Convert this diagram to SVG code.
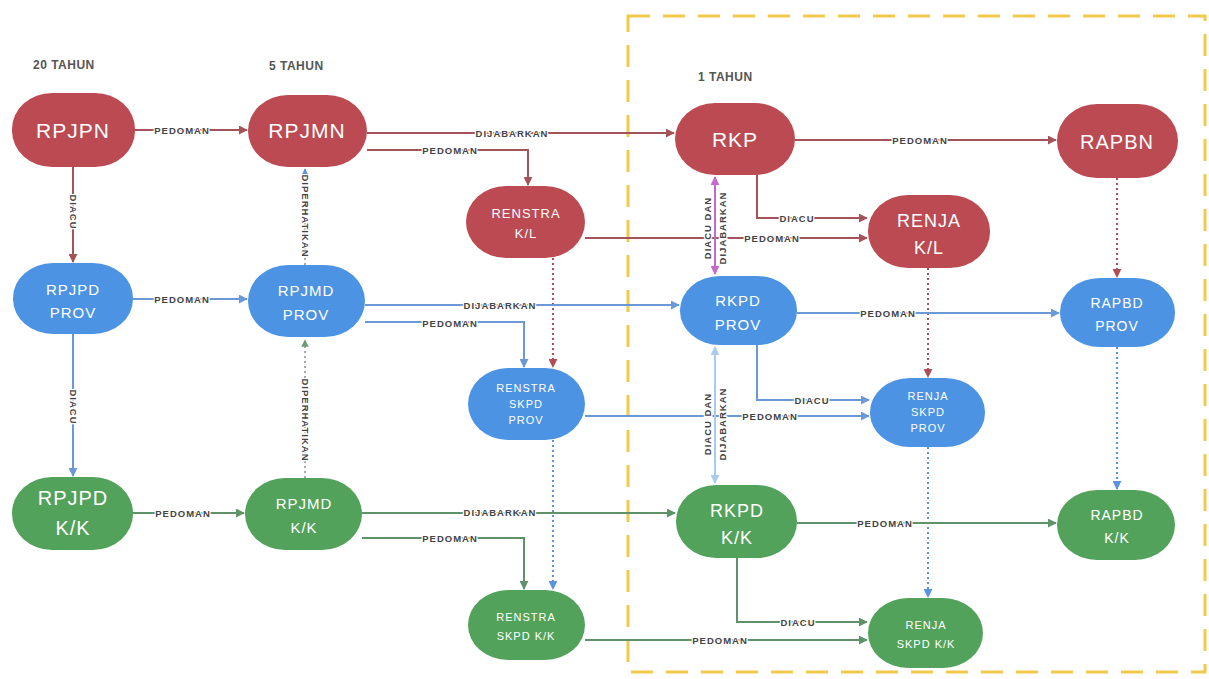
<svg xmlns="http://www.w3.org/2000/svg" width="1209" height="679" viewBox="0 0 1209 679">
<style>
.bg{fill:#ffffff}
.red{fill:#bb4a52}
.blue{fill:#4d93e3}
.green{fill:#53a25c}
.nt{font-family:"Liberation Sans",Arial,sans-serif;fill:#ffffff;text-anchor:middle;letter-spacing:1px}
.hd{font-family:"Liberation Sans",Arial,sans-serif;font-weight:bold;font-size:12px;fill:#555555;letter-spacing:0.5px}
.lb{font-family:"Liberation Sans",Arial,sans-serif;font-weight:bold;font-size:9.5px;fill:#444444;text-anchor:middle;dominant-baseline:central;letter-spacing:1px;paint-order:stroke;stroke:#ffffff;stroke-width:2.5px}
.cr{fill:none;stroke:#a5535a;stroke-width:2}
.cb{fill:none;stroke:#6b98d6;stroke-width:2}
.cg{fill:none;stroke:#5f9268;stroke-width:2}
.dr{fill:none;stroke:#b04e55;stroke-width:2;stroke-dasharray:2 3}
.db{fill:none;stroke:#5c93e0;stroke-width:2;stroke-dasharray:2 3}
.dg{fill:none;stroke:#8a8f8a;stroke-width:1.5;stroke-dasharray:2 3}
.cm{fill:none;stroke:#c46bc8;stroke-width:2}
.cl{fill:none;stroke:#a8ccf0;stroke-width:2}
.frame{fill:none;stroke:#f2c94a;stroke-width:3;stroke-dasharray:22 13}
</style>
<defs>
<marker id="ar" viewBox="0 0 10 10" refX="9" refY="5" markerWidth="4.5" markerHeight="4.5" orient="auto-start-reverse"><path d="M0,0 L10,5 L0,10 z" fill="#a5535a"/></marker>
<marker id="ab" viewBox="0 0 10 10" refX="9" refY="5" markerWidth="4.5" markerHeight="4.5" orient="auto-start-reverse"><path d="M0,0 L10,5 L0,10 z" fill="#6b98d6"/></marker>
<marker id="ag" viewBox="0 0 10 10" refX="9" refY="5" markerWidth="4.5" markerHeight="4.5" orient="auto-start-reverse"><path d="M0,0 L10,5 L0,10 z" fill="#5f9268"/></marker>
<marker id="adr" viewBox="0 0 10 10" refX="9" refY="5" markerWidth="4.5" markerHeight="4.5" orient="auto-start-reverse"><path d="M0,0 L10,5 L0,10 z" fill="#b04e55"/></marker>
<marker id="adb" viewBox="0 0 10 10" refX="9" refY="5" markerWidth="4.5" markerHeight="4.5" orient="auto-start-reverse"><path d="M0,0 L10,5 L0,10 z" fill="#5c93e0"/></marker>
<marker id="adg" viewBox="0 0 10 10" refX="9" refY="5" markerWidth="5" markerHeight="5" orient="auto-start-reverse"><path d="M0,0 L10,5 L0,10 z" fill="#6f9a78"/></marker>
<marker id="am" viewBox="0 0 10 10" refX="9" refY="5" markerWidth="4.5" markerHeight="4.5" orient="auto-start-reverse"><path d="M0,0 L10,5 L0,10 z" fill="#c46bc8"/></marker>
<marker id="al" viewBox="0 0 10 10" refX="9" refY="5" markerWidth="4.5" markerHeight="4.5" orient="auto-start-reverse"><path d="M0,0 L10,5 L0,10 z" fill="#a8ccf0"/></marker>
</defs>
<rect class="bg" x="0" y="0" width="1209" height="679"/>
<rect class="frame" x="628" y="16" width="577" height="656"/>
<g id="headers">
<text class="hd" x="33" y="69">20 TAHUN</text>
<text class="hd" x="269" y="70">5 TAHUN</text>
<text class="hd" x="698" y="81">1 TAHUN</text>
</g>
<g id="connectors">
<path class="cr" d="M135,130 H247" marker-end="url(#ar)"/>
<path class="cr" d="M367,133 H674" marker-end="url(#ar)"/>
<path class="cr" d="M367,150 H528 V185" marker-end="url(#ar)"/>
<path class="cr" d="M795,140 H1056" marker-end="url(#ar)"/>
<path class="cr" d="M757,175 V218 H867" marker-end="url(#ar)"/>
<path class="cr" d="M585,238 H867" marker-end="url(#ar)"/>
<path class="cr" d="M73,167 V262" marker-end="url(#ar)"/>
<path class="dr" d="M1117,178 V277" marker-end="url(#adr)"/>
<path class="dr" d="M553,258 V367" marker-end="url(#adr)"/>
<path class="dr" d="M928,268 V377" marker-end="url(#adr)"/>
<path class="cm" d="M715,177 V274" marker-start="url(#am)" marker-end="url(#am)"/>
<path class="dg" d="M305,265 V169" marker-end="url(#adb)"/>
<path class="cb" d="M133,299 H247" marker-end="url(#ab)"/>
<path class="cb" d="M365,305 H679" marker-end="url(#ab)"/>
<path class="cb" d="M365,322 H524 V367" marker-end="url(#ab)"/>
<path class="cb" d="M797,313 H1059" marker-end="url(#ab)"/>
<path class="cb" d="M757,345 V400 H869" marker-end="url(#ab)"/>
<path class="cb" d="M585,416 H869" marker-end="url(#ab)"/>
<path class="cb" d="M73,334 V476" marker-end="url(#ab)"/>
<path class="db" d="M1117,347 V489" marker-end="url(#adb)"/>
<path class="db" d="M553,440 V589" marker-end="url(#adb)"/>
<path class="db" d="M928,447 V597" marker-end="url(#adb)"/>
<path class="cl" d="M715,347 V483" marker-start="url(#al)" marker-end="url(#al)"/>
<path class="dg" d="M305,478 V340" marker-end="url(#adg)"/>
<path class="cg" d="M133,513 H244" marker-end="url(#ag)"/>
<path class="cg" d="M362,513 H675" marker-end="url(#ag)"/>
<path class="cg" d="M362,538 H524 V589" marker-end="url(#ag)"/>
<path class="cg" d="M797,523 H1056" marker-end="url(#ag)"/>
<path class="cg" d="M737,558 V622 H867" marker-end="url(#ag)"/>
<path class="cg" d="M585,640 H867" marker-end="url(#ag)"/>
<text class="lb" x="182" y="130">PEDOMAN</text>
<text class="lb" x="512" y="133">DIJABARKAN</text>
<text class="lb" x="450" y="150">PEDOMAN</text>
<text class="lb" x="920" y="140">PEDOMAN</text>
<text class="lb" x="797" y="218">DIACU</text>
<text class="lb" x="772" y="238">PEDOMAN</text>
<text class="lb" transform="translate(73,212) rotate(90)">DIACU</text>
<text class="lb" transform="translate(305,216) rotate(90)">DIPERHATIKAN</text>
<text class="lb" transform="translate(707,228) rotate(-90)">DIACU DAN</text>
<text class="lb" transform="translate(722,228) rotate(-90)">DIJABARKAN</text>
<text class="lb" x="182" y="299">PEDOMAN</text>
<text class="lb" x="500" y="305">DIJABARKAN</text>
<text class="lb" x="450" y="323">PEDOMAN</text>
<text class="lb" x="888" y="313">PEDOMAN</text>
<text class="lb" x="812" y="400">DIACU</text>
<text class="lb" x="770" y="416">PEDOMAN</text>
<text class="lb" transform="translate(73,407) rotate(90)">DIACU</text>
<text class="lb" transform="translate(305,420) rotate(90)">DIPERHATIKAN</text>
<text class="lb" transform="translate(707,424) rotate(-90)">DIACU DAN</text>
<text class="lb" transform="translate(722,424) rotate(-90)">DIJABARKAN</text>
<text class="lb" x="183" y="513">PEDOMAN</text>
<text class="lb" x="500" y="512">DIJABARKAN</text>
<text class="lb" x="450" y="538">PEDOMAN</text>
<text class="lb" x="885" y="523">PEDOMAN</text>
<text class="lb" x="798" y="622">DIACU</text>
<text class="lb" x="720" y="640">PEDOMAN</text>
</g>
<g id="rpjpn"><rect class="red" x="12" y="93" width="123" height="74" rx="40" ry="36"/><text class="nt" x="73" y="138" font-size="21">RPJPN</text></g>
<g id="rpjmn"><rect class="red" x="248" y="95" width="119" height="72" rx="40" ry="36"/><text class="nt" x="307" y="138" font-size="21">RPJMN</text></g>
<g id="rkp"><rect class="red" x="675" y="103" width="120" height="72" rx="40" ry="36"/><text class="nt" x="735" y="147" font-size="21">RKP</text></g>
<g id="rapbn"><rect class="red" x="1057" y="104" width="121" height="74" rx="40" ry="37"/><text class="nt" x="1117" y="149" font-size="20">RAPBN</text></g>
<g id="renstra-kl"><rect class="red" x="466" y="186" width="119" height="72" rx="40" ry="36"/><text class="nt" x="526" y="218" font-size="13">RENSTRA</text><text class="nt" x="526" y="238" font-size="13">K/L</text></g>
<g id="renja-kl"><rect class="red" x="868" y="195" width="122" height="73" rx="40" ry="36"/><text class="nt" x="929" y="227" font-size="18">RENJA</text><text class="nt" x="929" y="254" font-size="18">K/L</text></g>
<g id="rpjpd-prov"><rect class="blue" x="13" y="263" width="120" height="71" rx="40" ry="35"/><text class="nt" x="73" y="295" font-size="15">RPJPD</text><text class="nt" x="73" y="318" font-size="15">PROV</text></g>
<g id="rpjmd-prov"><rect class="blue" x="248" y="265" width="117" height="72" rx="40" ry="36"/><text class="nt" x="306" y="296" font-size="15">RPJMD</text><text class="nt" x="306" y="320" font-size="15">PROV</text></g>
<g id="rkpd-prov"><rect class="blue" x="680" y="276" width="117" height="69" rx="40" ry="34"/><text class="nt" x="738" y="306" font-size="15">RKPD</text><text class="nt" x="738" y="330" font-size="15">PROV</text></g>
<g id="rapbd-prov"><rect class="blue" x="1060" y="278" width="115" height="69" rx="40" ry="34"/><text class="nt" x="1117" y="308" font-size="14">RAPBD</text><text class="nt" x="1117" y="331" font-size="14">PROV</text></g>
<g id="renstra-skpd-prov"><rect class="blue" x="468" y="368" width="117" height="72" rx="40" ry="36"/><text class="nt" x="526" y="392" font-size="11">RENSTRA</text><text class="nt" x="526" y="408" font-size="11">SKPD</text><text class="nt" x="526" y="424" font-size="11">PROV</text></g>
<g id="renja-skpd-prov"><rect class="blue" x="870" y="378" width="115" height="69" rx="40" ry="34"/><text class="nt" x="928" y="400" font-size="11">RENJA</text><text class="nt" x="928" y="416" font-size="11">SKPD</text><text class="nt" x="928" y="432" font-size="11">PROV</text></g>
<g id="rpjpd-kk"><rect class="green" x="12" y="477" width="121" height="73" rx="40" ry="36"/><text class="nt" x="73" y="505" font-size="20">RPJPD</text><text class="nt" x="73" y="535" font-size="20">K/K</text></g>
<g id="rpjmd-kk"><rect class="green" x="245" y="478" width="117" height="72" rx="40" ry="36"/><text class="nt" x="304" y="509" font-size="15">RPJMD</text><text class="nt" x="304" y="533" font-size="15">K/K</text></g>
<g id="rkpd-kk"><rect class="green" x="676" y="485" width="121" height="73" rx="40" ry="36"/><text class="nt" x="737" y="517" font-size="18">RKPD</text><text class="nt" x="737" y="544" font-size="18">K/K</text></g>
<g id="rapbd-kk"><rect class="green" x="1057" y="490" width="118" height="70" rx="40" ry="35"/><text class="nt" x="1117" y="520" font-size="14">RAPBD</text><text class="nt" x="1117" y="543" font-size="14">K/K</text></g>
<g id="renstra-skpd-kk"><rect class="green" x="468" y="590" width="117" height="70" rx="40" ry="35"/><text class="nt" x="526" y="621" font-size="11">RENSTRA</text><text class="nt" x="526" y="640" font-size="11">SKPD K/K</text></g>
<g id="renja-skpd-kk"><rect class="green" x="868" y="598" width="115" height="70" rx="40" ry="35"/><text class="nt" x="926" y="629" font-size="11">RENJA</text><text class="nt" x="926" y="648" font-size="11">SKPD K/K</text></g>
</svg>
